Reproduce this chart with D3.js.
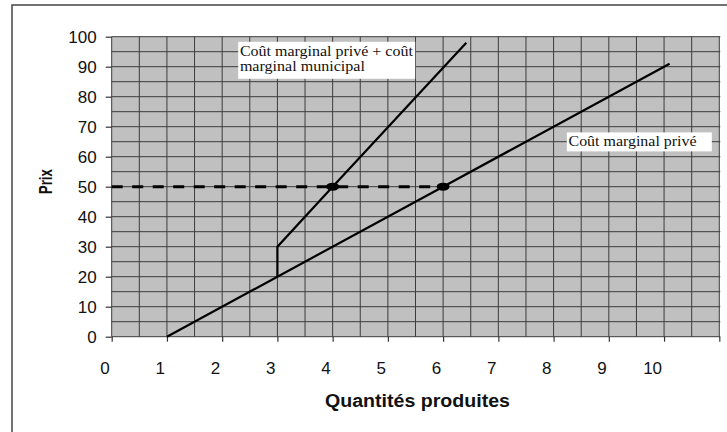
<!DOCTYPE html>
<html lang="fr">
<head>
	<meta charset="utf-8">
	<script src="https://cdn.jsdelivr.net/npm/d3@7"></script>
	<style>
		body{ margin:0; background:white; }
		.axis text{ font-family:"Liberation Sans", Arial, sans-serif; font-size:17px; fill:#111; }
		.axis path{ display:none; }
		.axis line{ stroke:#333; stroke-width:1.2px; }
		.grid line{ stroke:#3c3c3c; stroke-width:1px; }
		.note{ font-family:"Liberation Serif", "Times New Roman", serif; font-size:15px; fill:#111; }
		.title{ font-family:"Liberation Sans", Arial, sans-serif; font-weight:bold; fill:#111; }
	</style>
</head>
<body>
	<script>
		// valeurs
		var qLabels = [0, 1, 2, 3, 4, 5, 6, 7, 8, 9, 10];
		var pLabels = [0, 10, 20, 30, 40, 50, 60, 70, 80, 90, 100];
		var coutPrive = [[1, 0], [3, 20], [6, 50], [10.1, 91]];
		var coutSocial = [[3, 20], [3, 30], [4, 50], [6.42, 98]];
		var prixLigne = [[0, 50], [6, 50]];
		var equilibres = [[4, 50], [6, 50]];
		var notes = [
			{q: 2.29, p: 98.3, lines: ["Coût marginal privé + coût", "marginal municipal"], lens: [173, 125], w: 177, h: 37},
			{q: 8.24, p: 68.1, lines: ["Coût marginal privé"], lens: [128], w: 145, h: 19}
		];

		var width = 727, height = 432;
		var svg = d3.select("body").append("svg")
			.attr("width", width)
			.attr("height", height);

		var x = d3.scaleLinear().domain([0, 11]).range([111.7, 719.3]);
		var y = d3.scaleLinear().domain([0, 100]).range([336.7, 36.7]);

		// cadre extérieur
		svg.append("path")
			.attr("d", "M12,440V5H740")
			.attr("fill", "none")
			.attr("stroke", "#444")
			.attr("stroke-width", 1.5);

		// zone de tracé
		svg.append("rect")
			.attr("x", x(0)).attr("y", y(100))
			.attr("width", x(11) - x(0)).attr("height", y(0) - y(100))
			.attr("fill", "#c0c0c0");

		var grid = svg.append("g").attr("class", "grid");
		grid.selectAll(".v").data(d3.range(0, 11.01, 0.5)).enter()
			.append("line")
			.attr("x1", function(d){ return x(d); })
			.attr("x2", function(d){ return x(d); })
			.attr("y1", y(100)).attr("y2", y(0));
		grid.selectAll(".h").data(d3.range(0, 100.1, 5)).enter()
			.append("line")
			.attr("x1", x(0)).attr("x2", x(11) + 1)
			.attr("y1", function(d){ return y(d); })
			.attr("y2", function(d){ return y(d); });

		// axes
		var yAxis = svg.append("g")
			.attr("class", "axis")
			.attr("transform", "translate(" + x(0) + ",0)")
			.call(d3.axisLeft(y).tickValues(pLabels).tickSize(6).tickPadding(9));
		yAxis.selectAll("text").attr("dy", null).attr("y", 5.5);

		var xAxis = svg.append("g")
			.attr("class", "axis")
			.attr("transform", "translate(0," + y(0) + ")")
			.call(d3.axisBottom(x).tickValues(qLabels.concat([11])).tickSize(5)
				.tickFormat(function(d){ return qLabels.indexOf(d) >= 0 ? d : ""; }));
		xAxis.selectAll("text")
			.attr("text-anchor", "end")
			.attr("dy", null)
			.attr("x", -2.5)
			.attr("y", 37.6);

		// titres des axes
		svg.append("text")
			.attr("class", "title")
			.attr("x", 325).attr("y", 406.5)
			.attr("font-size", "18px")
			.attr("textLength", 185)
			.attr("lengthAdjust", "spacingAndGlyphs")
			.text("Quantités produites");

		svg.append("text")
			.attr("class", "title")
			.attr("transform", "translate(51.5,194) rotate(-90)")
			.attr("font-size", "18px")
			.attr("textLength", 24.7)
			.attr("lengthAdjust", "spacingAndGlyphs")
			.text("Prix");

		// courbes
		var line = d3.line()
			.x(function(d){ return x(d[0]); })
			.y(function(d){ return y(d[1]); });

		svg.append("path")
			.attr("d", line(prixLigne))
			.attr("fill", "none")
			.attr("stroke", "black")
			.attr("stroke-width", 3)
			.attr("stroke-dasharray", "11,9.5");

		svg.append("path")
			.attr("d", line(coutPrive))
			.attr("fill", "none")
			.attr("stroke", "black")
			.attr("stroke-width", 2.2);

		svg.append("path")
			.attr("d", line(coutSocial))
			.attr("fill", "none")
			.attr("stroke", "black")
			.attr("stroke-width", 2.2);

		svg.selectAll(".pt").data(equilibres).enter()
			.append("ellipse")
			.attr("cx", function(d){ return x(d[0]); })
			.attr("cy", function(d){ return y(d[1]); })
			.attr("rx", 6.5).attr("ry", 4)
			.attr("fill", "black");

		// étiquettes
		notes.forEach(function(n){
			var g = svg.append("g")
				.attr("transform", "translate(" + x(n.q) + "," + y(n.p) + ")");
			g.append("rect")
				.attr("width", n.w).attr("height", n.h)
				.attr("fill", "white");
			n.lines.forEach(function(t, i){
				g.append("text")
					.attr("class", "note")
					.attr("x", 1.7)
					.attr("y", 14 + i * 15)
					.attr("textLength", n.lens[i])
					.attr("lengthAdjust", "spacingAndGlyphs")
					.text(t);
			});
		});
	</script>
</body>
</html>
